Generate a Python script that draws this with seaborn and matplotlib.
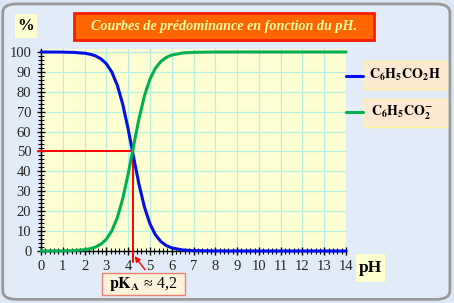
import matplotlib
matplotlib.use("Agg")
import matplotlib.pyplot as plt
from matplotlib.patches import FancyBboxPatch, Rectangle
from matplotlib.ticker import MultipleLocator
import seaborn as sns
import pandas as pd

# ---- data ----
ph = [0, 1, 1.5, 2, 2.25, 2.5, 2.75, 3, 3.25, 3.5, 3.75, 4, 4.2, 4.25, 4.5,
      4.75, 5, 5.25, 5.5, 5.75, 6, 6.5, 7, 8, 10, 14]
acid = [100, 99.94, 99.8, 99.37, 98.89, 98.04, 96.57, 94.06, 89.91, 83.37,
        73.81, 61.31, 50, 47.12, 33.39, 21.99, 13.68, 8.18, 4.77, 2.74, 1.56,
        0.5, 0.16, 0.02, 0, 0]
base = [0, 0.06, 0.2, 0.63, 1.11, 1.96, 3.43, 5.94, 10.09, 16.63, 26.19,
        38.69, 50, 52.88, 66.61, 78.01, 86.32, 91.82, 95.23, 97.26, 98.44,
        99.5, 99.84, 99.98, 100, 100]
pka = 4.2
title = "Courbes de prédominance en fonction du pH."
x_ticks = list(range(0, 15))
y_ticks = list(range(0, 101, 10))

df = pd.DataFrame({"pH": ph * 2, "pct": acid + base,
                   "espece": ["acide"] * len(ph) + ["base"] * len(ph)})

sns.set_theme(style="white")
plt.rcParams["font.family"] = ["Liberation Serif", "DejaVu Serif"]
plt.rcParams["mathtext.fontset"] = "stix"

W, H = 454, 303
fig = plt.figure(figsize=(4.54, 3.03), dpi=100)
fig.patch.set_facecolor("#dbe7f5")
frame = FancyBboxPatch((0.006, 0.012), 0.985, 0.975, transform=fig.transFigure,
                       boxstyle="round,pad=0,rounding_size=0.03",
                       facecolor="#e2ecf8", edgecolor="#9a9a9a", lw=2.0, zorder=-5)
fig.patches.append(frame)


def box(x0, y0, x1, y1, fc, ec="none", lw=1.0):
    r = Rectangle((x0 / W, 1 - y1 / H), (x1 - x0) / W, (y1 - y0) / H,
                  transform=fig.transFigure, facecolor=fc, edgecolor=ec, lw=lw,
                  zorder=1)
    fig.patches.append(r)
    return ((x0 + x1) / 2 / W, 1 - (y0 + y1) / 2 / H)


ax = fig.add_axes([41 / W, 52 / H, 305 / W, 202 / H])
ax.set_facecolor("#ffffd2")
ax.set_xlim(0, 14)
ax.set_ylim(0, 101.5)

for xv in x_ticks:
    ax.axvline(xv, color="#b6f0e2", lw=0.9, zorder=0)
for yv in y_ticks:
    ax.axhline(yv, color="#b6f0e2", lw=0.9, zorder=0)

# red construction lines
ax.plot([-0.15, pka], [50, 50], color="#ff0000", lw=1.4, clip_on=False, zorder=3)
ax.plot([pka, pka], [50, -5.5], color="#ff0000", lw=1.4, clip_on=False, zorder=3)

sns.lineplot(data=df, x="pH", y="pct", hue="espece",
             palette={"acide": "#0010e8", "base": "#00b050"},
             lw=2.2, legend=False, ax=ax, zorder=4, clip_on=False)

for s in ["top", "right"]:
    ax.spines[s].set_visible(False)
for s in ["left", "bottom"]:
    ax.spines[s].set_color("black")
    ax.spines[s].set_linewidth(1.0)

ax.set_xticks(x_ticks)
ax.set_yticks(y_ticks)
ax.xaxis.set_minor_locator(MultipleLocator(0.2))
ax.yaxis.set_minor_locator(MultipleLocator(2))
ax.tick_params(axis="both", which="major", direction="inout", length=6, width=1,
               color="black", labelsize=10.5, bottom=True, left=True)
ax.tick_params(axis="x", which="major", pad=3.5)
ax.tick_params(axis="y", which="major", pad=4)
ax.tick_params(axis="both", which="minor", direction="inout", length=4, width=0.8,
               color="black", bottom=True, left=True)
ax.set_xlabel("")
ax.set_ylabel("")

# arrow from pKa box to the axis
ax.annotate("", xy=(pka + 0.02, -1.5), xytext=(4.85, -10.5),
            xycoords="data", textcoords="data",
            arrowprops=dict(arrowstyle="-|>", color="#ff0000", lw=1.0,
                            mutation_scale=8), annotation_clip=False)

# title box
cx, cy = box(74, 13, 374, 40, "#ff6600", "#ff1a00", 2.0)
fig.text(cx, cy, title, ha="center", va="center", fontsize=10.2,
         fontstyle="italic", fontweight="bold", color="#ffffa8")

# % label
cx, cy = box(15, 14, 37, 38, "#ffffd0")
fig.text(cx, cy, "%", ha="center", va="center", fontsize=12,
         fontweight="bold", color="black")

# pH label
cx, cy = box(356, 254, 385, 282, "#ffffd0")
fig.text(cx, cy, "pH", ha="center", va="center", fontsize=12.5,
         fontweight="bold", color="black")

# pKa label
cx, cy = box(102, 273, 185, 295, "#fff3dc", "#f08070", 1.0)
fig.text(cx, cy, r"$\mathbf{pK_A}$ ≈ 4,2", ha="center", va="center",
         fontsize=11.5, color="black")

# legend lines and boxes
fig.add_artist(plt.Line2D([346 / W, 363 / W], [1 - 76 / H] * 2,
                          color="#0010e8", lw=2.2, transform=fig.transFigure))
fig.add_artist(plt.Line2D([346 / W, 363 / W], [1 - 112 / H] * 2,
                          color="#00b050", lw=2.2, transform=fig.transFigure))
cx, cy = box(363, 61, 447, 89, "#fde9d2", "#fff4a0", 1.0)
fig.text(cx, cy, r"$\mathbf{C_6H_5CO_2H}$", ha="center", va="center",
         fontsize=10, color="black")
cx, cy = box(363, 99, 447, 127, "#fde9d2", "#fff4a0", 1.0)
fig.text(cx - 3 / W, cy, r"$\mathbf{C_6H_5CO_2^{-}}$", ha="center", va="center",
         fontsize=10, color="black")

fig.savefig("out.png", dpi=100, facecolor=fig.get_facecolor())
